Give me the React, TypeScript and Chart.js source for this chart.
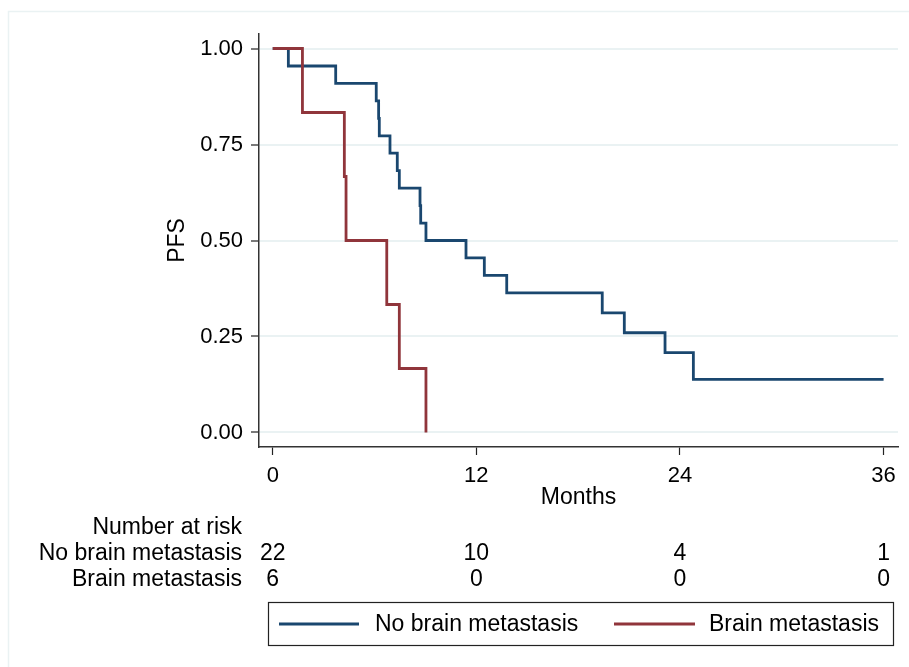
import React, { useEffect, useRef } from "react";
import { Chart, registerables } from "chart.js";

Chart.register(...registerables);

const noBrainTimes = [0, 0.92, 3.71, 6.1, 6.24, 6.28, 6.91, 7.34, 7.46, 8.68, 8.72, 9.03, 11.39, 12.47, 13.79, 19.42, 20.72, 23.12, 24.79, 36.0];
const noBrainSurv = [1, 0.9545, 0.9091, 0.8636, 0.8182, 0.7727, 0.7273, 0.6818, 0.6364, 0.5909, 0.5455, 0.5, 0.4545, 0.4091, 0.3636, 0.3117, 0.2597, 0.2078, 0.1385, 0.1385];
const brainTimes = [0, 1.75, 4.22, 4.32, 6.72, 7.46, 9.03];
const brainSurv = [1, 0.8333, 0.6667, 0.5, 0.3333, 0.1667, 0];

const xTickValues = [0, 12, 24, 36];
const yTickValues = [0, 0.25, 0.5, 0.75, 1];
const groupLabels = ["No brain metastasis", "Brain metastasis"];
const atRiskNoBrain = [22, 10, 4, 1];
const atRiskBrain = [6, 0, 0, 0];

const NAVY = "#1a476f";
const MAROON = "#90353b";
const FONT = '"Liberation Sans", Arial, Helvetica, sans-serif';
const FS = 22;
const FS2 = 23;

const extrasPlugin = {
  id: "extras",
  afterDraw(chart: any) {
    const ctx = chart.ctx as CanvasRenderingContext2D;
    const xs = chart.scales.x;
    const area = chart.chartArea;
    ctx.save();
    // outer frame
    ctx.strokeStyle = "#eaf2f3";
    ctx.lineWidth = 1.5;
    ctx.beginPath();
    ctx.moveTo(8.5, 700);
    ctx.lineTo(8.5, 11.5);
    ctx.lineTo(920, 11.5);
    ctx.stroke();

    ctx.fillStyle = "#000";
    ctx.font = `${FS2}px ${FONT}`;
    ctx.textBaseline = "middle";
    // y title
    ctx.save();
    ctx.translate(178, (area.top + area.bottom) / 2);
    ctx.rotate(-Math.PI / 2);
    ctx.textAlign = "center";
    ctx.fillText("PFS", 0, 0);
    ctx.restore();
    // x title
    ctx.textAlign = "center";
    ctx.fillText("Months", (area.left + area.right) / 2, 498);

    // risk table
    ctx.textAlign = "right";
    ctx.fillText("Number at risk", 242, 528);
    ctx.fillText(groupLabels[0], 242, 554);
    ctx.fillText(groupLabels[1], 242, 580);
    ctx.textAlign = "center";
    xTickValues.forEach((v, i) => {
      const px = xs.getPixelForValue(v);
      ctx.fillText(String(atRiskNoBrain[i]), px, 554);
      ctx.fillText(String(atRiskBrain[i]), px, 580);
    });

    // legend
    ctx.strokeStyle = "#222";
    ctx.lineWidth = 1.2;
    ctx.strokeRect(268.5, 602.5, 625, 43);
    ctx.lineWidth = 2.8;
    ctx.strokeStyle = NAVY;
    ctx.beginPath();
    ctx.moveTo(279, 624);
    ctx.lineTo(359, 624);
    ctx.stroke();
    ctx.strokeStyle = MAROON;
    ctx.beginPath();
    ctx.moveTo(614, 624);
    ctx.lineTo(695, 624);
    ctx.stroke();
    ctx.textAlign = "left";
    ctx.fillText(groupLabels[0], 375, 625);
    ctx.fillText(groupLabels[1], 709, 625);
    ctx.restore();
  },
};

export default function App() {
  const ref = useRef<HTMLCanvasElement | null>(null);
  useEffect(() => {
    if (!ref.current) return;
    const chart = new Chart(ref.current, {
      type: "line",
      data: {
        datasets: [
          {
            label: groupLabels[0],
            data: noBrainTimes.map((t, i) => ({ x: t, y: noBrainSurv[i] })),
            borderColor: NAVY,
            backgroundColor: NAVY,
            borderWidth: 2.8,
            pointRadius: 0,
            stepped: "before",
            fill: false,
            order: 2,
            borderCapStyle: "butt",
          },
          {
            label: groupLabels[1],
            data: brainTimes.map((t, i) => ({ x: t, y: brainSurv[i] })),
            borderColor: MAROON,
            backgroundColor: MAROON,
            borderWidth: 2.8,
            pointRadius: 0,
            stepped: "before",
            fill: false,
            order: 1,
            borderCapStyle: "butt",
          },
        ],
      },
      options: {
        animation: false,
        responsive: false,
        devicePixelRatio: 1,
        layout: { padding: { left: 0, right: 11, top: 34, bottom: 0 } },
        plugins: { legend: { display: false }, tooltip: { enabled: false } },
        scales: {
          x: {
            type: "linear",
            min: -0.81,
            max: 36.85,
            afterFit: (s: any) => {
              s.height = 220;
            },
            afterBuildTicks: (s: any) => {
              s.ticks = xTickValues.map((v) => ({ value: v }));
            },
            ticks: {
              color: "#000",
              font: { size: FS, family: FONT },
              padding: 8,
              maxRotation: 0,
              autoSkip: false,
            },
            grid: {
              drawOnChartArea: false,
              drawTicks: true,
              tickLength: 8,
              tickColor: "#222",
              tickWidth: 1.2,
            },
            border: { color: "#333", width: 1.5 },
          },
          y: {
            type: "linear",
            min: -0.0378,
            max: 1.0378,
            afterFit: (s: any) => {
              s.width = 259;
            },
            afterBuildTicks: (s: any) => {
              s.ticks = yTickValues.map((v) => ({ value: v }));
            },
            ticks: {
              color: "#000",
              font: { size: FS, family: FONT },
              padding: 8,
              callback: (v: any) => Number(v).toFixed(2),
              autoSkip: false,
            },
            grid: {
              color: "#eaf2f3",
              lineWidth: 2,
              drawTicks: true,
              tickLength: 8,
              tickColor: "#222",
              tickWidth: 1.2,
            },
            border: { color: "#333", width: 1.5 },
          },
        },
      },
      plugins: [extrasPlugin],
    } as any);
    return () => chart.destroy();
  }, []);
  return (
    <div style={{ position: "absolute", left: 0, top: 0, width: 909, height: 667, background: "#fff" }}>
      <canvas ref={ref} width={909} height={667} style={{ display: "block", width: 909, height: 667 }} />
    </div>
  );
}
